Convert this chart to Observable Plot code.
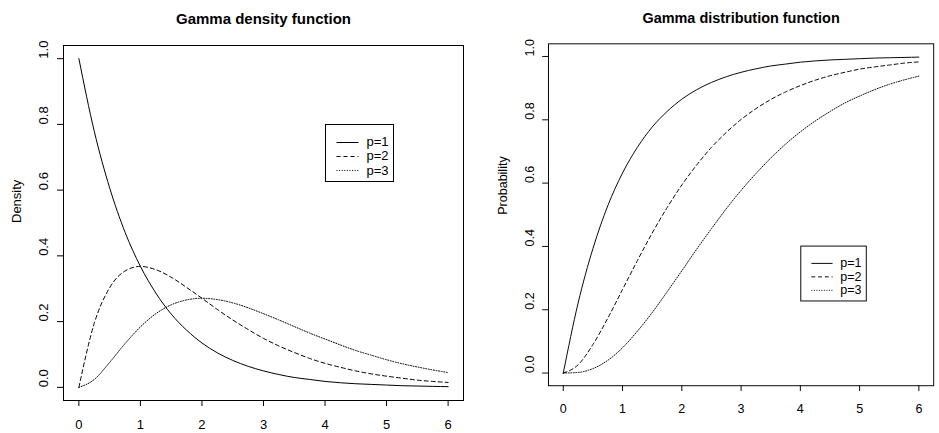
<!DOCTYPE html>
<html>
<head>
<meta charset="utf-8">
<script src="https://cdn.jsdelivr.net/npm/d3@7"></script>
<script src="https://cdn.jsdelivr.net/npm/@observablehq/plot@0.6"></script>
<style>
  html, body { margin: 0; padding: 0; background: #fff; }
  #wrap { position: relative; width: 939px; height: 433px; overflow: hidden; background: #fff; }
  .panel { position: absolute; top: 0; }
</style>
</head>
<body>
<div id="wrap">
  <div id="left" class="panel" style="left:0px"></div>
  <div id="right" class="panel" style="left:469px"></div>
</div>
<script>
// ---- data ----
const xValues = [0, 0.25, 0.5, 0.75, 1, 1.25, 1.5, 1.75, 2, 2.25, 2.5, 2.75, 3, 3.25, 3.5, 3.75, 4, 4.25, 4.5, 4.75, 5, 5.25, 5.5, 5.75, 6];
const seriesNames = ["p=1", "p=2", "p=3"];
const densityP1 = [1.000, 0.779, 0.607, 0.472, 0.368, 0.287, 0.223, 0.174, 0.135, 0.105, 0.082, 0.064, 0.050, 0.039, 0.030, 0.024, 0.018, 0.014, 0.011, 0.009, 0.007, 0.005, 0.004, 0.003, 0.002];
const densityP2 = [0, 0.195, 0.303, 0.354, 0.368, 0.358, 0.335, 0.304, 0.271, 0.237, 0.205, 0.176, 0.149, 0.126, 0.106, 0.088, 0.073, 0.061, 0.050, 0.041, 0.034, 0.028, 0.022, 0.018, 0.015];
const densityP3 = [0, 0.024, 0.076, 0.133, 0.184, 0.224, 0.251, 0.266, 0.271, 0.267, 0.257, 0.242, 0.224, 0.205, 0.185, 0.165, 0.147, 0.129, 0.112, 0.098, 0.084, 0.072, 0.062, 0.053, 0.045];
const cdfP1 = [0, 0.221, 0.393, 0.528, 0.632, 0.713, 0.777, 0.826, 0.865, 0.895, 0.918, 0.936, 0.950, 0.961, 0.970, 0.976, 0.982, 0.986, 0.989, 0.991, 0.993, 0.995, 0.996, 0.997, 0.998];
const cdfP2 = [0, 0.026, 0.090, 0.173, 0.264, 0.355, 0.442, 0.522, 0.594, 0.657, 0.713, 0.760, 0.801, 0.835, 0.864, 0.888, 0.908, 0.925, 0.939, 0.950, 0.960, 0.967, 0.973, 0.979, 0.983];
const cdfP3 = [0, 0.002, 0.014, 0.040, 0.080, 0.132, 0.191, 0.256, 0.323, 0.391, 0.456, 0.519, 0.577, 0.630, 0.679, 0.723, 0.762, 0.796, 0.826, 0.853, 0.875, 0.895, 0.912, 0.926, 0.938];
const xTicks = [0, 1, 2, 3, 4, 5, 6];
const yTicks = [0, 0.2, 0.4, 0.6, 0.8, 1.0];
const panelTitles = ["Gamma density function", "Gamma distribution function"];
const yLabels = ["Density", "Probability"];
const legendAnchors = [[4, 0.8], [4, 0.4]];

// ---- styles ----
const FONT = "'Liberation Sans', Arial, Helvetica, sans-serif";
const dashes = [null, "4,3", "1,1.6"];

function panel(container, {title, ylab, series, marginLeft, width, legendAt}) {
  const data = series.flatMap((vals, i) => xValues.map((x, j) => ({x, y: vals[j], p: seriesNames[i]})));
  const height = 433, marginTop = 45, marginBottom = 33, marginRight = 6;
  const plot = Plot.plot({
    width, height, marginLeft, marginRight, marginTop, marginBottom,
    style: {fontFamily: FONT, fontSize: "13px", color: "#000", background: "transparent", overflow: "visible"},
    x: {domain: [-0.25, 6.25], ticks: xTicks, tickSize: 6, tickFormat: () => "", label: null},
    y: {domain: [-0.04, 1.04], ticks: yTicks, tickSize: 6, tickFormat: () => "", label: null},
    marks: [
      Plot.frame({stroke: "#000", strokeWidth: 1}),
      ...seriesNames.map((name, i) => Plot.line(data.filter(d => d.p === name), {
        x: "x", y: "y", stroke: "#000", strokeWidth: 1,
        strokeDasharray: dashes[i] || undefined, curve: "monotone-x"
      })),
      Plot.text(xTicks, {x: d => d, text: d => String(d), frameAnchor: "bottom", dy: 24.5, lineAnchor: "middle", fontSize: 13, fill: "#000"}),
      Plot.text(yTicks, {y: d => d, text: d => d.toFixed(1), frameAnchor: "left", dx: -19.3, rotate: -90, lineAnchor: "middle", fontSize: 13, fill: "#000"}),
      Plot.text([ylab], {text: d => d, frameAnchor: "left", dx: -47, rotate: -90, lineAnchor: "middle", fontSize: 13, fill: "#000"}),
      Plot.text([title], {text: d => d, frameAnchor: "top", dy: -26, lineAnchor: "middle", fontSize: 15, fontWeight: "bold", fill: "#000"})
    ]
  });
  container.appendChild(plot);

  // legend anchored at a data point, through the plot's scales
  const sx = plot.scale("x"), sy = plot.scale("y");
  const X = sx.apply ? v => sx.apply(v) : d3.scaleLinear(sx.domain, sx.range);
  const Y = sy.apply ? v => sy.apply(v) : d3.scaleLinear(sy.domain, sy.range);
  const px = Math.round(X(legendAt[0])) + 0.5, py = Math.round(Y(legendAt[1])) + 0.5;
  const svg = d3.select(plot.tagName.toLowerCase() === "svg" ? plot : plot.querySelector("svg"));
  const g = svg.append("g").attr("font-family", FONT).attr("font-size", 13).attr("text-anchor", "start");
  g.append("rect").attr("x", px).attr("y", py).attr("width", 68).attr("height", 57)
    .attr("fill", "#fff").attr("stroke", "#000").attr("stroke-width", 1);
  const rows = [17, 31.3, 45.6];
  seriesNames.forEach((name, i) => {
    g.append("line").attr("x1", px + 11).attr("x2", px + 33)
      .attr("y1", Math.round(py + rows[i]) + 0.5).attr("y2", Math.round(py + rows[i]) + 0.5)
      .attr("stroke", "#000").attr("stroke-width", 1)
      .attr("stroke-dasharray", dashes[i]);
    g.append("text").attr("x", px + 41).attr("y", py + rows[i]).attr("dy", "0.35em")
      .attr("text-anchor", "start").attr("fill", "#000").text(name);
  });
}

panel(document.getElementById("left"), {
  title: panelTitles[0], ylab: yLabels[0], series: [densityP1, densityP2, densityP3],
  marginLeft: 63, width: 469, legendAt: legendAnchors[0]
});
panel(document.getElementById("right"), {
  title: panelTitles[1], ylab: yLabels[1], series: [cdfP1, cdfP2, cdfP3],
  marginLeft: 82, width: 488, legendAt: legendAnchors[1]
});
</script>
</body>
</html>
